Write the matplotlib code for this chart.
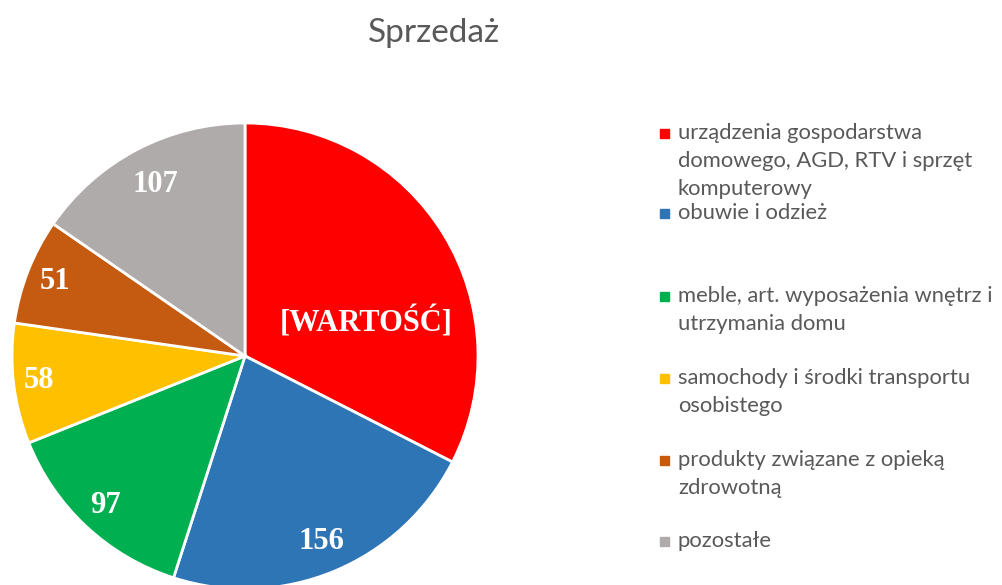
import matplotlib.pyplot as plt
import numpy as np

categories = ['urządzenia gospodarstwa\ndomowego, AGD, RTV i sprzęt\nkomputerowy',
              'obuwie i odzież',
              'meble, art. wyposażenia wnętrz i\nutrzymania domu',
              'samochody i środki transportu\nosobistego',
              'produkty związane z opieką\nzdrowotną',
              'pozostałe']
values = [226, 156, 97, 58, 51, 107]
value_labels = ['[WARTOŚĆ]', '156', '97', '58', '51', '107']
colors = ['#FF0000', '#2E75B6', '#00B050', '#FFC000', '#C55A11', '#AFABAB']

# pozycje etykiet (ułamek promienia, przesunięcie kąta)
lab_dist = [0.54, 0.86, 0.88, 0.89, 0.875, 0.83]
lab_shift = [-16, 0, 0, 0, 0, 0]

W, H = 1002, 585
fig = plt.figure(figsize=(W / 100, H / 100), dpi=100)
ax = fig.add_axes([0, 0, 1, 1])

cx, cy, r = 245, H - 356, 233
wedges, _ = ax.pie(values, colors=colors, startangle=90, counterclock=False,
                   center=(cx, cy), radius=r, frame=True,
                   wedgeprops=dict(edgecolor='white', linewidth=2))
ax.set_xlim(0, W)
ax.set_ylim(0, H)
ax.set_aspect('equal')
ax.axis('off')

for w, lab, d, s in zip(wedges, value_labels, lab_dist, lab_shift):
    ang = np.deg2rad((w.theta1 + w.theta2) / 2 + s)
    ax.text(cx + d * r * np.cos(ang), cy + d * r * np.sin(ang), lab,
            ha='center', va='center', color='white', fontsize=22,
            fontweight='bold', family='Liberation Serif')

ax.text(434, H - 33, 'Sprzedaż', ha='center', va='center', fontsize=24,
        color='#595959', family='Lato')

leg_y = [133, 213, 296, 378, 460, 541]
for cat, c, y in zip(categories, colors, leg_y):
    ax.add_patch(plt.Rectangle((660, H - y - 4.5), 9, 9, color=c))
    ax.text(678, H - y + 10, cat, ha='left', va='top', fontsize=15.8,
            color='#595959', family='Lato', linespacing=1.5)

fig.savefig('out.png', dpi=100)
